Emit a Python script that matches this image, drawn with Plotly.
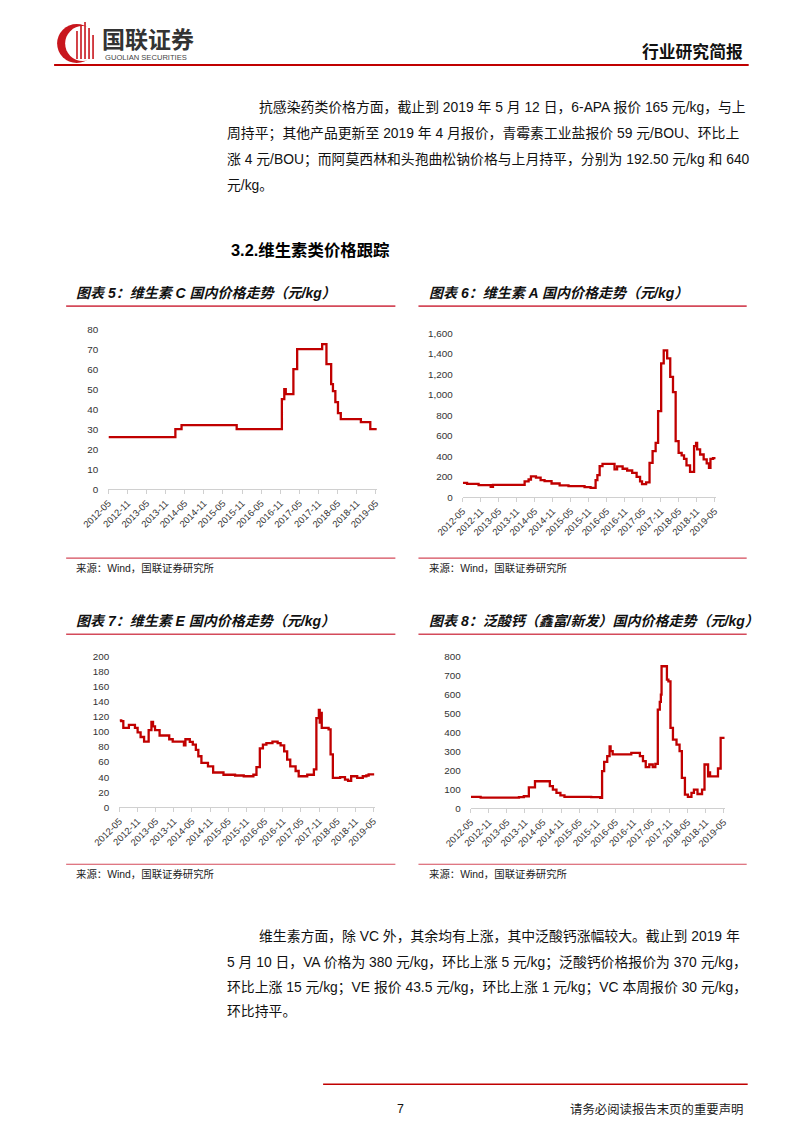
import plotly.graph_objects as go

W, H = 802, 1133

# ---------------- data ----------------
x_ticks = ["2012-05", "2012-11", "2013-05", "2013-11", "2014-05", "2014-11", "2015-05",
           "2015-11", "2016-05", "2016-11", "2017-05", "2017-11", "2018-05", "2018-11", "2019-05"]

vc_dates = ["2012-05-04", "2014-02-01", "2014-04-01", "2015-09-10", "2016-11-15", "2016-12-08",
            "2016-12-22", "2017-03-05", "2017-04-10", "2017-12-05", "2018-01-15", "2018-03-01",
            "2018-03-18", "2018-04-10", "2018-05-05", "2018-06-01", "2018-12-10", "2019-03-10",
            "2019-05-10"]
vc_vals = [26, 30, 32, 30, 45, 50, 47.5, 60, 70, 72.5, 62.5, 52.5, 49, 43.5, 38, 35, 33.5, 30, 30]

va_dates = ["2012-05-04", "2012-06-15", "2012-10-10", "2013-02-10", "2013-03-05", "2014-01-20",
            "2014-03-01", "2014-03-25", "2014-05-15", "2014-07-01", "2014-08-10", "2014-10-20",
            "2015-01-10", "2015-04-10", "2015-09-20", "2015-11-20", "2016-01-10", "2016-01-28",
            "2016-02-20", "2016-03-20", "2016-07-20", "2016-08-15", "2016-10-10", "2016-11-25",
            "2017-01-15", "2017-03-01", "2017-04-05", "2017-04-25", "2017-06-05", "2017-07-10",
            "2017-08-10", "2017-09-10", "2017-10-05", "2017-11-05", "2017-12-01", "2018-01-05",
            "2018-02-05", "2018-03-05", "2018-04-01", "2018-05-01", "2018-06-01", "2018-06-25",
            "2018-07-20", "2018-08-25", "2018-10-05", "2018-10-25", "2018-11-05", "2018-12-05",
            "2019-01-10", "2019-02-10", "2019-03-05", "2019-03-20", "2019-04-15", "2019-05-10"]
va_vals = [140, 130, 117, 101, 120, 153, 172, 202, 190, 166, 156, 133, 114, 107, 98, 91, 166, 215,
           302, 325, 270, 300, 277, 260, 237, 198, 153, 127, 144, 335, 449, 530, 839, 1304, 1431,
           1353, 1174, 1024, 546, 432, 408, 374, 309, 247, 498, 530, 465, 416, 368, 329, 286, 374,
           380, 380]

ve_dates = ["2012-05-04", "2012-05-20", "2012-06-10", "2012-08-05", "2012-10-05", "2012-11-01",
            "2012-12-01", "2013-01-05", "2013-02-20", "2013-03-20", "2013-04-05", "2013-04-25",
            "2013-06-10", "2013-09-15", "2013-10-20", "2014-02-10", "2014-02-25", "2014-04-10",
            "2014-05-10", "2014-06-10", "2014-07-05", "2014-08-05", "2014-10-10", "2014-12-01",
            "2015-03-15", "2015-07-10", "2015-10-05", "2016-01-10", "2016-02-10", "2016-03-15",
            "2016-04-15", "2016-05-20", "2016-07-20", "2016-09-10", "2016-10-10", "2016-11-15",
            "2016-12-15", "2017-01-15", "2017-03-10", "2017-04-10", "2017-07-05", "2017-09-10",
            "2017-10-05", "2017-10-30", "2017-11-08", "2017-11-12", "2017-11-28", "2018-02-05",
            "2018-02-25", "2018-03-20", "2018-06-01", "2018-07-20", "2018-08-20", "2018-09-20",
            "2018-11-20", "2019-01-15", "2019-02-20", "2019-03-15", "2019-05-10"]
ve_vals = [115, 114, 105, 109, 105, 99, 93, 87, 102, 113, 107, 102, 95, 90, 87, 82, 90, 86.5, 83,
           76, 67.5, 58.7, 54, 46, 43, 42, 41, 43, 53, 78, 83, 85, 87, 85, 82, 74, 63, 54, 48, 41,
           43, 50, 118, 129, 112, 125, 105, 103, 70, 39, 40, 36.6, 35, 41, 39, 41, 42, 43.5, 43.5]

ca_dates = ["2012-05-04", "2012-08-10", "2013-09-01", "2013-10-20", "2013-12-10", "2014-02-10",
            "2014-07-10", "2014-08-10", "2014-09-15", "2014-10-25", "2014-12-05", "2015-09-01",
            "2015-12-01", "2015-12-20", "2016-01-10", "2016-02-10", "2016-03-05", "2016-03-15",
            "2016-04-05", "2016-10-10", "2017-01-05", "2017-02-05", "2017-03-05", "2017-04-10",
            "2017-05-15", "2017-06-10", "2017-07-05", "2017-07-25", "2017-08-05", "2017-08-12",
            "2017-10-05", "2017-10-20", "2017-11-10", "2017-12-05", "2018-01-10", "2018-02-10",
            "2018-03-05", "2018-04-05", "2018-05-05", "2018-06-10", "2018-07-05", "2018-08-10",
            "2018-09-25", "2018-10-20", "2018-11-25", "2018-12-05", "2018-12-15", "2019-03-05",
            "2019-04-01", "2019-05-10"]
ca_vals = [60, 56, 58, 63, 110, 142, 116, 98, 81, 68, 60, 58, 54, 195, 244, 274, 326, 300, 283, 291,
           274, 248, 216, 230, 216, 233, 519, 560, 598, 747, 677, 668, 423, 361, 335, 300, 160, 72,
           60, 81, 98, 75, 98, 230, 168, 188, 168, 209, 370, 370]

titles = ["图表 5：维生素 C 国内价格走势（元/kg）", "图表 6：维生素 A 国内价格走势（元/kg）",
          "图表 7：维生素 E 国内价格走势（元/kg）", "图表 8：泛酸钙（鑫富/新发）国内价格走势（元/kg）"]
source_text = "来源：Wind，国联证券研究所"

para1 = ["抗感染药类价格方面，截止到 2019 年 5 月 12 日，6-APA 报价 165 元/kg，与上",
         "周持平；其他产品更新至 2019 年 4 月报价，青霉素工业盐报价 59 元/BOU、环比上",
         "涨 4 元/BOU；而阿莫西林和头孢曲松钠价格与上月持平，分别为 192.50 元/kg 和 640",
         "元/kg。"]
para2 = ["维生素方面，除 VC 外，其余均有上涨，其中泛酸钙涨幅较大。截止到 2019 年",
         "5 月 10 日，VA 价格为 380 元/kg，环比上涨 5 元/kg；泛酸钙价格报价为 370 元/kg，",
         "环比上涨 15 元/kg；VE 报价 43.5 元/kg，环比上涨 1 元/kg；VC 本周报价 30 元/kg，",
         "环比持平。"]

# ---------------- helpers ----------------
# the photographed page is slightly rescaled; positions below are given in target
# picture pixels and mapped back to figure coordinates
SX, OX = 0.959, 28.0
SY, OY = 0.990, 5.0


def fx(x):
    return ((x - OX) / SX) / W


def fy(y):
    return 1 - ((y - OY) / SY) / H


BODY_FONT = "Liberation Sans, Noto Sans CJK SC"
LINE_RED = "#C00000"
SEC_RED = "#D44A5A"

fig = go.Figure()

charts = [
    (vc_dates, vc_vals, 109, 377, 488, 328, 80, 10, ""),
    (va_dates, va_vals, 462, 714.5, 496, 332, 1600, 200, ","),
    (ve_dates, ve_vals, 120, 374.5, 806, 655, 200, 20, ""),
    (ca_dates, ca_vals, 470, 723.5, 807, 655, 800, 100, ""),
]

tick_dates = [t + "-01" for t in x_ticks]

for i, (d, v, xl, xr, y0, yt, ymax, dt, fmt) in enumerate(charts):
    n = "" if i == 0 else str(i + 1)
    fig.add_trace(go.Scatter(x=d, y=v, mode="lines", xaxis="x" + n, yaxis="y" + n,
                             line=dict(color=LINE_RED, width=2.3, shape="hv"),
                             showlegend=False, hoverinfo="skip"))
    fig.layout["xaxis" + n] = dict(
        domain=[fx(xl), fx(xr)], anchor="y" + n, type="date",
        range=["2012-05-01", "2019-05-16"],
        tickvals=tick_dates, ticktext=x_ticks, tickangle=-45,
        tickfont=dict(family="Liberation Sans", size=9.4, color="#333"),
        ticks="outside", ticklen=4, tickcolor="#D0D0D0",
        showline=True, linecolor="#D0D0D0", linewidth=1,
        showgrid=False, zeroline=False, fixedrange=True)
    fig.layout["yaxis" + n] = dict(
        domain=[fy(y0), fy(yt)], anchor="x" + n, range=[0, ymax],
        tick0=0, dtick=dt, tickformat=fmt,
        tickfont=dict(family="Liberation Sans", size=9.9, color="#333"),
        ticks="", showline=False, showgrid=False, zeroline=False,
        ticklabelstandoff=9, fixedrange=True)

annotations = []
shapes = []


def text(x, y, s, size, anchor="left", color="#111", family=BODY_FONT):
    annotations.append(dict(x=fx(x), y=fy(y), xref="paper", yref="paper", text=s,
                            showarrow=False, xanchor=anchor, yanchor="middle",
                            font=dict(family=family, size=size, color=color)))


def hline(x0, x1, y, color, width):
    shapes.append(dict(type="line", xref="paper", yref="paper", x0=fx(x0), x1=fx(x1),
                       y0=fy(y), y1=fy(y), line=dict(color=color, width=width)))


blocks = [(75, 67, 395, 292, 305, 557, 567), (427, 418, 745, 292, 305, 557, 567),
          (75, 67, 395, 620, 633, 863, 873), (427, 418, 745, 620, 633, 863, 873)]
for t, (tx, lx0, lx1, ty, ly, sly, sy) in zip(titles, blocks):
    text(tx, ty, "<b><i>" + t + "</i></b>", 14)
    hline(lx0, lx1, ly, SEC_RED, 1.6)
    hline(lx0, lx1, sly, SEC_RED, 1.2)
    text(tx, sy, source_text, 10.4, color="#222")

p1_y = [106, 132, 158, 184]
for k, (s, y) in enumerate(zip(para1, p1_y)):
    text(257 if k == 0 else 225, y, s, 13.85)
p2_y = [935, 961, 986, 1010]
for k, (s, y) in enumerate(zip(para2, p2_y)):
    text(257 if k == 0 else 225, y, s, 13.85)

text(229, 249, "<b>3.2.维生素类价格跟踪</b>", 16.4, color="#000")

# header
text(101, 37, "<b>国联证券</b>", 23, color="#333", family="Noto Sans CJK SC")
text(104, 56, "GUOLIAN SECURITIES", 7.6, color="#444", family="Liberation Sans")
text(743, 50, "<b>行业研究简报</b>", 16.8, anchor="right", color="#111", family="Noto Sans CJK SC")
hline(55, 747, 64, LINE_RED, 1.8)

# logo
shapes.append(dict(type="circle", xref="paper", yref="paper", x0=fx(58), x1=fx(97),
                   y0=fy(62), y1=fy(23), fillcolor="#C8161D", line=dict(width=0)))
shapes.append(dict(type="circle", xref="paper", yref="paper", x0=fx(66), x1=fx(101),
                   y0=fy(60), y1=fy(25), fillcolor="white", line=dict(width=0)))
for bx, top in [(77, 30), (81, 24), (85, 21), (89, 27), (93, 34)]:
    shapes.append(dict(type="rect", xref="paper", yref="paper", x0=fx(bx), x1=fx(bx + 1.6),
                       y0=fy(58), y1=fy(top), fillcolor="#C8161D", line=dict(width=0)))

# footer
hline(323, 746, 1083, LINE_RED, 1.5)
text(400, 1108, "7", 12.4, anchor="center", color="#111", family="Liberation Sans")
text(743, 1108, "请务必阅读报告末页的重要声明", 12.4, anchor="right", color="#222")

fig.update_layout(width=W, height=H, autosize=False, margin=dict(l=0, r=0, t=0, b=0),
                  paper_bgcolor="white", plot_bgcolor="white",
                  annotations=annotations, shapes=shapes)

fig.write_html("out.html", config={"displayModeBar": False})
